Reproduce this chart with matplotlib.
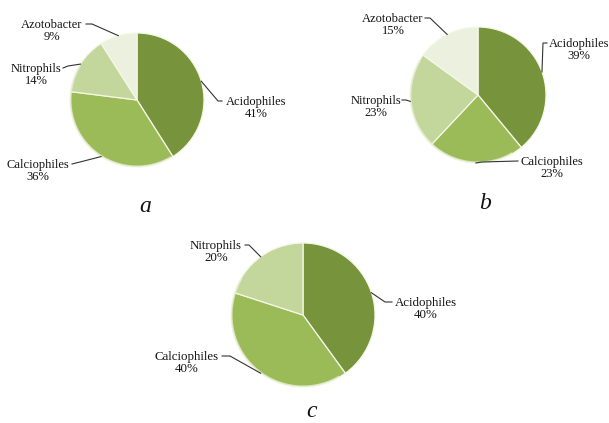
import numpy as np
import matplotlib
matplotlib.use("Agg")
import matplotlib.pyplot as plt

# Soil microbial groups, share of isolates (%)
labels_a = ["Acidophiles", "Calciophiles", "Nitrophils", "Azotobacter"]
values_a = [41, 36, 14, 9]

labels_b = ["Acidophiles", "Calciophiles", "Nitrophils", "Azotobacter"]
values_b = [39, 23, 23, 15]

labels_c = ["Acidophiles", "Calciophiles", "Nitrophils"]
values_c = [40, 40, 20]

colors = {
    "Acidophiles": "#77933C",
    "Calciophiles": "#9BBB59",
    "Nitrophils": "#C3D69B",
    "Azotobacter": "#EBF1DE",
}

W, H = 609, 423
fig = plt.figure(figsize=(W / 100, H / 100), dpi=100)
fig.patch.set_facecolor("white")

SERIF = ["Liberation Serif", "DejaVu Serif"]


def px_axes(cx, cy, r):
    """Axes covering a square of half-width r px centred at (cx, cy)."""
    return fig.add_axes([(cx - r) / W, 1 - (cy + r) / H, 2 * r / W, 2 * r / H])


def draw_pie(cx, cy, r, names, vals, label_pos, fs, panel, panel_xy):
    ax = px_axes(cx, cy, r)
    wedges, _ = ax.pie(
        vals,
        colors=[colors[n] for n in names],
        startangle=90,
        counterclock=False,
        radius=1.0,
        center=(0, 0),
        wedgeprops=dict(edgecolor="#F4F8E6", linewidth=0.9),
    )
    ax.set_xlim(-1, 1)
    ax.set_ylim(-1, 1)
    ax.set_aspect("equal")
    ax.axis("off")
    # soft rim on the lower-left edge
    th = np.linspace(np.deg2rad(150), np.deg2rad(300), 100)
    ax.plot(np.cos(th) * 0.99, np.sin(th) * 0.99, color="#E8EFD6", lw=1.2,
            alpha=0.8, clip_on=False)

    for w, name, v in zip(wedges, names, vals):
        mid = np.deg2rad((w.theta1 + w.theta2) / 2)
        ex, ey = np.cos(mid), np.sin(mid)
        (tx, ty), (lx, ly), text_x = label_pos[name]
        # leader line: pie edge -> elbow -> text side
        xs = [cx + r * ex, lx, tx]
        ys = [cy - r * ey, ly, ty]
        fig.add_artist(plt.Line2D([x / W for x in xs], [1 - y / H for y in ys],
                                  color="#333333", lw=0.8))
        fig.text(text_x / W, 1 - (ty + 7) / H, f"{name}\n{v}%", ha="center",
                 va="center", fontsize=fs, family=SERIF, linespacing=1.05,
                 color="#141414")

    fig.text(panel_xy[0] / W, 1 - panel_xy[1] / H, panel, ha="center",
             va="baseline", fontsize=17, family=SERIF, style="italic",
             color="#111111")


# label layout: (line end at text), (elbow), text centre x
pos_a = {
    "Acidophiles": ((222, 101), (218, 101), 256),
    "Calciophiles": ((72, 164), (80, 162), 38),
    "Nitrophils": ((63, 68), (68, 66), 36),
    "Azotobacter": ((86, 24), (92, 24), 52),
}
pos_b = {
    "Acidophiles": ((547, 43), (543, 43), 579),
    "Calciophiles": ((518, 161), (482, 162), 552),
    "Nitrophils": ((402, 100), (406, 100), 376),
    "Azotobacter": ((425, 18), (430, 18), 393),
}
pos_c = {
    "Acidophiles": ((392, 302), (385, 302), 426),
    "Calciophiles": ((222, 356), (230, 356), 187),
    "Nitrophils": ((245, 245), (249, 245), 216),
}

draw_pie(137, 100, 67, labels_a, values_a, pos_a, 9, "a", (145, 212))
draw_pie(478, 95, 68, labels_b, values_b, pos_b, 9, "b", (485, 209))
draw_pie(303, 315, 72, labels_c, values_c, pos_c, 9.3, "c", (312, 417))

fig.savefig("out.png", dpi=100, facecolor="white")
